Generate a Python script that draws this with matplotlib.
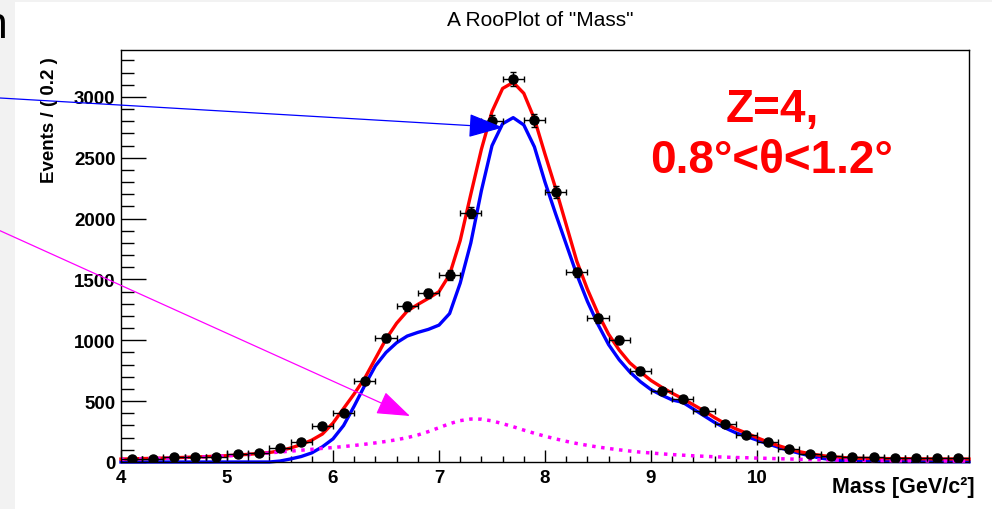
import numpy as np
import matplotlib
matplotlib.use('Agg')
import matplotlib.pyplot as plt
from matplotlib.patches import Rectangle

plt.rcParams['font.family'] = ['Liberation Sans', 'DejaVu Sans']

# binned data (bin width 0.2)
bin_centers = np.round(np.arange(4.1, 12.0, 0.2), 1)
counts = [25, 25, 44, 44, 44, 63, 74, 115, 162, 293,
          405, 668, 1016, 1279, 1388, 1539, 2050, 2800, 3150, 2810,
          2220, 1558, 1180, 1000, 750, 583, 517, 421, 312, 222,
          167, 107, 66, 49, 41, 37, 33, 33, 33, 35]

# fitted curves, read every 0.1 GeV
curve_x = np.round(np.arange(4.0, 12.01, 0.1), 1)
total_fit = [24, 26, 28, 30, 32, 35, 38, 41, 44, 48, 52, 57, 63, 70, 78,
             92, 115, 143, 180, 230, 320, 440, 560, 690, 850,
             1010, 1140, 1240, 1295, 1345, 1400, 1540, 1820, 2200, 2570,
             2880, 3070, 3120, 3030, 2820, 2530, 2250, 1950, 1650, 1420,
             1220, 1050, 920, 815, 740, 670, 615, 565, 520, 470,
             420, 365, 315, 272, 238, 200, 165, 135, 108, 85,
             68, 54, 44, 37, 32, 30, 29, 28, 27, 27,
             26, 26, 25, 25, 25, 24]
signal_fit = [0, 0, 0, 0, 0, 0, 0, 0, 0, 0, 0, 0, 0, 0, 0,
              8, 25, 45, 75, 125, 190, 300, 460, 630, 790,
              900, 980, 1035, 1065, 1090, 1125, 1220, 1470, 1800, 2230,
              2600, 2780, 2830, 2770, 2590, 2300, 2040, 1790, 1540, 1320,
              1130, 965, 840, 740, 660, 595, 550, 510, 490, 435,
              380, 325, 280, 240, 210, 180, 150, 122, 95, 72,
              50, 32, 20, 12, 8, 6, 5, 4, 4, 3,
              3, 3, 2, 2, 2, 2]
bkg_fit = [22, 24, 26, 28, 30, 33, 36, 39, 42, 46, 50, 55, 61, 68, 75,
           82, 89, 97, 104, 112, 119, 127, 136, 146, 157,
           169, 183, 200, 222, 250, 282, 315, 340, 353, 352,
           338, 315, 290, 262, 236, 212, 190, 170, 152, 137,
           123, 111, 100, 90, 81, 74, 67, 61, 56, 51,
           47, 43, 40, 37, 35, 32, 30, 27, 25, 22,
           20, 18, 17, 15, 14, 13, 12, 11.5, 11, 10.5,
           10, 9.5, 9, 8.5, 8, 8]

W, H = 992, 510
fig = plt.figure(figsize=(W / 100, H / 100), dpi=100)
fig.patch.set_facecolor('#f2f2f2')
fig.patches.append(Rectangle((15 / W, 0), 1, 1 - 3 / H, transform=fig.transFigure,
                             facecolor='white', edgecolor='none', zorder=-10))

ax = fig.add_axes([121 / W, 1 - 463 / H, (969 - 121) / W, (463 - 51) / H])
ax.set_xlim(4, 12)
ax.set_ylim(0, 3386)

ax.plot(curve_x, signal_fit, color='#0000ff', lw=2.4, zorder=2, clip_on=False)
ax.plot(curve_x, total_fit, color='#ff0000', lw=2.4, zorder=3, clip_on=False)
ax.plot(curve_x, bkg_fit, color='#ff00ff', lw=2.5, ls=(0, (1, 1.6)), zorder=4, clip_on=False)
ax.errorbar(bin_centers, counts, xerr=0.1, yerr=np.sqrt(counts), fmt='o', color='black',
            ms=6.5, elinewidth=1, capsize=2.5, capthick=1, zorder=5)

# arrows coming in from the left of the canvas
ax.annotate('', xy=(7.604, 2749), xycoords='data', xytext=(0, 1 - 99 / H),
            textcoords='figure fraction',
            arrowprops=dict(arrowstyle='-|>,head_length=2.2,head_width=0.75', color='#0000ff',
                            lw=0.9, shrinkA=0, shrinkB=0), zorder=6)
ax.annotate('', xy=(6.726, 378), xycoords='data', xytext=(0, 1 - 231.7 / H),
            textcoords='figure fraction',
            arrowprops=dict(arrowstyle='-|>,head_length=2.1,head_width=0.75', color='#ff00ff',
                            lw=0.9, shrinkA=0, shrinkB=0), zorder=6)

# ticks
ax.set_xticks(range(4, 11))
ax.set_xticks([v for v in np.round(np.arange(4.2, 10.6, 0.2), 1) if v % 1 != 0], minor=True)
ax.set_yticks(range(0, 3001, 500))
ax.set_yticks([v for v in range(100, 3400, 100) if v % 500 != 0], minor=True)
ax.tick_params(axis='x', which='major', direction='in', length=8.6, width=1, labelsize=13.5, pad=5)
ax.tick_params(axis='x', which='minor', direction='in', length=4.3, width=1)
ax.tick_params(axis='y', which='major', direction='in', length=18, width=1, labelsize=13.5, pad=4)
ax.tick_params(axis='y', which='minor', direction='in', length=9.4, width=1)
for lbl in ax.get_xticklabels() + ax.get_yticklabels():
    lbl.set_fontweight('bold')
for sp in ax.spines.values():
    sp.set_linewidth(1)

fig.text(540 / W, 1 - 21 / H, 'A RooPlot of "Mass"', ha='center', va='center', fontsize=15)
fig.text(50 / W, 1 - 120 / H, 'Events / ( 0.2 )', rotation=90, ha='center', va='center',
         fontsize=13.5, fontweight='bold')
fig.text(975 / W, 1 - 487 / H, 'Mass [GeV/c²]', ha='right', va='center',
         fontsize=15.5, fontweight='bold')

fig.text(772 / W, 1 - 122 / H, 'Z=4,', ha='center', va='baseline', fontsize=33,
         fontweight='bold', color='#ff0000')
fig.text(772 / W, 1 - 173 / H, '0.8°<θ<1.2°', ha='center', va='baseline', fontsize=33,
         fontweight='bold', color='#ff0000')

# partial letter cut off at the top-left of the screenshot
fig.text(8 / W, 1 - 38 / H, 'n', ha='right', va='baseline', fontsize=32, color='black')

fig.savefig('out.png', dpi=100, facecolor=fig.get_facecolor())
